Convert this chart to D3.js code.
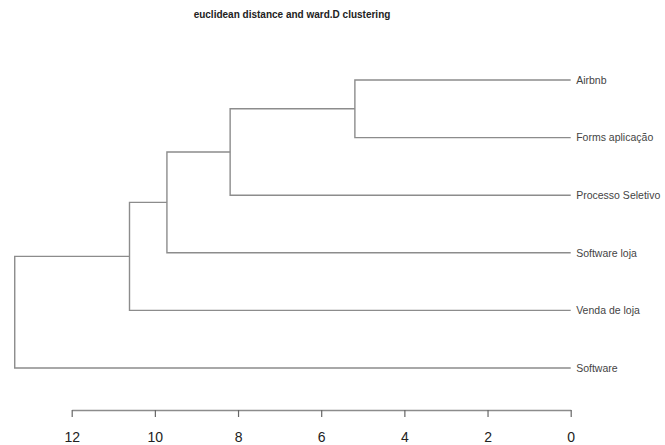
<!DOCTYPE html>
<html>
<head>
<meta charset="utf-8">
<script src="https://cdn.jsdelivr.net/npm/d3@7"></script>
<style>
  body { margin: 0; background: #fff; }
  svg { display: block; font-family: "Liberation Sans", Arial, sans-serif; }
</style>
</head>
<body>
<div id="draw_here"></div>
<script type="text/javascript">
    // Data: leaves (top to bottom), R-style merge matrix and heights
    labels = ["Airbnb", "Forms aplicação", "Processo Seletivo", "Software loja", "Venda de loja", "Software"]
    merges = [[-1, -2], [-3, 1], [-4, 2], [-5, 3], [-6, 4]]
    heights = [5.19, 8.19, 9.71, 10.61, 13.37]
    ticks = [0, 2, 4, 6, 8, 10, 12]
    title = "euclidean distance and ward.D clustering"

    canvas = ({width: 665, height: 445})
    lineColor = "#8c8c8c"

    var svg = d3.select("div#draw_here").append("svg")
        .attr("width", canvas.width)
        .attr("height", canvas.height)
        .attr("viewBox", [0, 0, canvas.width, canvas.height]);

    // Scales
    x = d3.scaleLinear()
        .domain([0, 12])
        .range([570.7, 71.7])

    y = d3.scalePoint()
        .domain(labels)
        .range([80, 368])

    // Title
    svg.append("text")
        .attr("x", 292)
        .attr("y", 17.5)
        .attr("text-anchor", "middle")
        .attr("font-size", 10)
        .attr("font-weight", "bold")
        .attr("fill", "#222")
        .text(title)

    // Build node positions from the merge matrix
    nodes = merges.map(() => null)
    function pos(id) {
        if (id < 0) return {x: 0, y: y(labels[-id - 1])}
        return nodes[id - 1]
    }

    segs = []
    merges.forEach((m, i) => {
        a = pos(m[0])
        b = pos(m[1])
        h = heights[i]
        segs.push([[a.x, a.y], [h, a.y], [h, b.y], [b.x, b.y]])
        nodes[i] = {x: h, y: (a.y + b.y) / 2}
    })

    line = d3.line()
        .x(d => x(d[0]))
        .y(d => d[1])

    svg.append("g")
        .selectAll("path")
        .data(segs)
        .join("path")
        .attr("fill", "none")
        .attr("stroke", lineColor)
        .attr("stroke-width", 1.4)
        .attr("d", d => line(d))

    // Leaf labels
    svg.append("g")
        .selectAll("text")
        .data(labels)
        .join("text")
        .attr("x", x(0) + 5.5)
        .attr("y", d => y(d) + 1)
        .attr("dominant-baseline", "middle")
        .attr("font-size", 10.5)
        .attr("fill", "#444")
        .text(d => d)

    // Axis
    xAxis = g => g
        .attr("transform", "translate(0,410)")
        .call(d3.axisBottom(x).tickValues(ticks).tickFormat(d3.format("d"))
            .tickSize(7).tickPadding(14.8).tickSizeOuter(0))

    ax = svg.append("g").call(xAxis)
    ax.select(".domain").attr("stroke", lineColor).attr("stroke-width", 1.3)
    ax.selectAll(".tick line").attr("stroke", "#666").attr("stroke-width", 1.2)
    ax.selectAll(".tick text")
        .attr("font-size", 14)
        .attr("font-family", "Liberation Sans, Arial, sans-serif")
        .attr("fill", "#222")
</script>
</body>
</html>
